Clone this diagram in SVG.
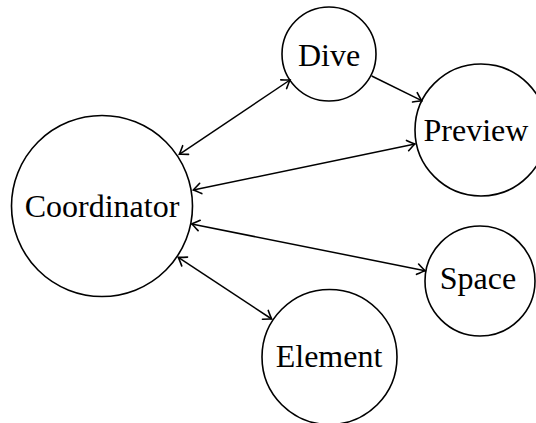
<svg xmlns="http://www.w3.org/2000/svg" width="536" height="423" viewBox="0 0 536 423">
<defs>
<style>
.node circle{fill:#fff;stroke:#000;stroke-width:1.6}
.node text{font-family:"Liberation Serif","Times New Roman",serif;font-size:32px;text-anchor:middle;fill:#000}
.edge{stroke:#000;stroke-width:1.5;fill:none}
</style>
<marker id="ah" markerUnits="userSpaceOnUse" markerWidth="14" markerHeight="14" viewBox="-8 -6 10 12" refX="0" refY="0" orient="auto-start-reverse">
<path d="M-6.5,-4.5 Q-2,-1.2 0,0 Q-2,1.2 -6.5,4.5" fill="none" stroke="#000" stroke-width="1.4" stroke-linecap="round"/>
</marker>
</defs>
<rect width="536" height="423" fill="#fff"/>
<g id="nodes">
<g id="coordinator" class="node"><circle cx="102" cy="206" r="90.5"/><text x="102" y="217">Coordinator</text></g>
<g id="dive" class="node"><circle cx="329" cy="54" r="47"/><text x="329" y="66">Dive</text></g>
<g id="preview" class="node"><circle cx="481" cy="130" r="66"/><text x="476" y="141">Preview</text></g>
<g id="space" class="node"><circle cx="480" cy="281" r="55"/><text x="478" y="289">Space</text></g>
<g id="element" class="node"><circle cx="329.5" cy="357" r="67.5"/><text x="329" y="367">Element</text></g>
</g>
<g id="connectors">
<line class="edge" x1="179.3" y1="154.3" x2="290" y2="80" marker-start="url(#ah)" marker-end="url(#ah)"/>
<line class="edge" x1="371.7" y1="76" x2="421.7" y2="100.7" marker-end="url(#ah)"/>
<line class="edge" x1="193.3" y1="190" x2="415" y2="144" marker-start="url(#ah)" marker-end="url(#ah)"/>
<line class="edge" x1="191.7" y1="224" x2="425" y2="270.7" marker-start="url(#ah)" marker-end="url(#ah)"/>
<line class="edge" x1="178.3" y1="257.3" x2="271.7" y2="319" marker-start="url(#ah)" marker-end="url(#ah)"/>
</g>
</svg>
